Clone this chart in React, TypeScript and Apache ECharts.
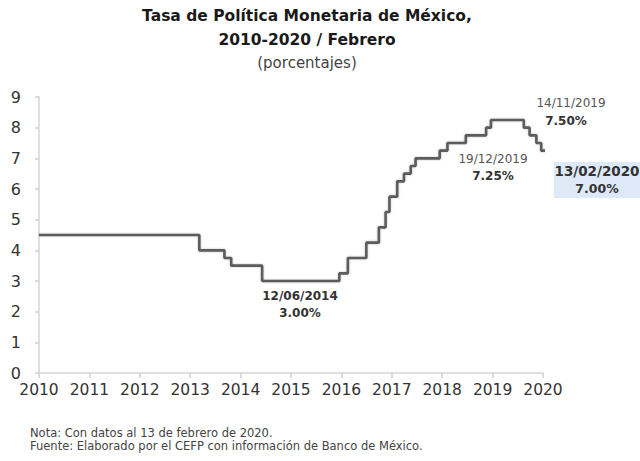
import React, { useEffect, useRef } from "react";
import * as echarts from "echarts";

// Fechas de cambio de la tasa objetivo y su nivel (%)
const changeDates = [
  "2010-01-01", "2013-03-08", "2013-09-06", "2013-10-25", "2014-06-06",
  "2015-12-17", "2016-02-17", "2016-06-30", "2016-09-29", "2016-11-17",
  "2016-12-15", "2017-02-09", "2017-03-30", "2017-05-18", "2017-06-22",
  "2017-12-14", "2018-02-08", "2018-06-21", "2018-11-15", "2018-12-20",
  "2019-08-15", "2019-09-26", "2019-11-14", "2019-12-19", "2020-02-13",
];
const rates = [
  4.5, 4.0, 3.75, 3.5, 3.0,
  3.25, 3.75, 4.25, 4.75, 5.25,
  5.75, 6.25, 6.5, 6.75, 7.0,
  7.25, 7.5, 7.75, 8.0, 8.25,
  8.0, 7.75, 7.5, 7.25, 7.0,
];
const yearTicks = [2010, 2011, 2012, 2013, 2014, 2015, 2016, 2017, 2018, 2019, 2020];
const yTicks = [0, 1, 2, 3, 4, 5, 6, 7, 8, 9];

function toYear(s: string): number {
  const d = new Date(s + "T00:00:00Z").getTime();
  const y = new Date(s + "T00:00:00Z").getUTCFullYear();
  const a = Date.UTC(y, 0, 1);
  const b = Date.UTC(y + 1, 0, 1);
  return y + (d - a) / (b - a);
}

const FONT = "DejaVu Sans";

export default function App() {
  const ref = useRef<HTMLDivElement>(null);
  useEffect(() => {
    if (!ref.current) return;
    const chart = echarts.init(ref.current, undefined, { renderer: "svg" });
    const data = changeDates.map((d, i) => [toYear(d), rates[i]]);
    chart.setOption({
      animation: false,
      backgroundColor: "#ffffff",
      grid: { left: 39, right: 97, top: 97, bottom: 88 },
      xAxis: {
        type: "value",
        min: yearTicks[0],
        max: yearTicks[yearTicks.length - 1],
        interval: 1,
        axisLine: { show: true, lineStyle: { color: "#d4d4d4", width: 1.5 } },
        axisTick: { show: true, length: 5, lineStyle: { color: "#cfcfcf", width: 1.5 } },
        splitLine: { show: false },
        axisLabel: {
          color: "#333",
          fontFamily: FONT,
          fontSize: 15.5,
          margin: 9,
          formatter: (v: number) => String(Math.round(v)),
        },
      },
      yAxis: {
        type: "value",
        min: yTicks[0],
        max: yTicks[yTicks.length - 1],
        interval: 1,
        axisLine: { show: true, lineStyle: { color: "#d4d4d4", width: 1.5 } },
        axisTick: { show: true, length: 4, lineStyle: { color: "#cfcfcf", width: 1.5 } },
        splitLine: { show: false },
        axisLabel: { color: "#333", fontFamily: FONT, fontSize: 16, margin: 18 },
      },
      series: [
        {
          type: "line",
          data,
          step: "end",
          symbol: "none",
          clip: false,
          lineStyle: {
            color: "#5c5c5c",
            width: 2.6,
            shadowColor: "rgba(0,0,0,0.25)",
            shadowBlur: 2,
          },
        },
      ],
      graphic: [
        {
          type: "text",
          x: 307, y: 16,
          style: { text: "Tasa de Política Monetaria de México,", font: `bold 15.5px ${FONT}`, fill: "#1a1a1a", textAlign: "center", textVerticalAlign: "middle" },
        },
        {
          type: "text",
          x: 307, y: 40,
          style: { text: "2010-2020 / Febrero", font: `bold 15.5px ${FONT}`, fill: "#1a1a1a", textAlign: "center", textVerticalAlign: "middle" },
        },
        {
          type: "text",
          x: 307, y: 63,
          style: { text: "(porcentajes)", font: `15px ${FONT}`, fill: "#444", textAlign: "center", textVerticalAlign: "middle" },
        },
        {
          type: "text",
          x: 571, y: 103,
          style: { text: "14/11/2019", font: `12px ${FONT}`, fill: "#555", textAlign: "center", textVerticalAlign: "middle" },
        },
        {
          type: "text",
          x: 566, y: 121,
          style: { text: "7.50%", font: `bold 12px ${FONT}`, fill: "#333", textAlign: "center", textVerticalAlign: "middle" },
        },
        {
          type: "text",
          x: 493, y: 159,
          style: { text: "19/12/2019", font: `12px ${FONT}`, fill: "#555", textAlign: "center", textVerticalAlign: "middle" },
        },
        {
          type: "text",
          x: 493, y: 176,
          style: { text: "7.25%", font: `bold 12px ${FONT}`, fill: "#333", textAlign: "center", textVerticalAlign: "middle" },
        },
        {
          type: "rect",
          shape: { x: 554, y: 162, width: 90, height: 36 },
          style: { fill: "#dde9f6" },
        },
        {
          type: "text",
          x: 597, y: 171,
          style: { text: "13/02/2020", font: `bold 13.5px ${FONT}`, fill: "#333", textAlign: "center", textVerticalAlign: "middle" },
        },
        {
          type: "text",
          x: 597, y: 188,
          style: { text: "7.00%", font: `bold 12.5px ${FONT}`, fill: "#333", textAlign: "center", textVerticalAlign: "middle" },
        },
        {
          type: "text",
          x: 300, y: 296,
          style: { text: "12/06/2014", font: `bold 12px ${FONT}`, fill: "#333", textAlign: "center", textVerticalAlign: "middle" },
        },
        {
          type: "text",
          x: 300, y: 313,
          style: { text: "3.00%", font: `bold 12px ${FONT}`, fill: "#333", textAlign: "center", textVerticalAlign: "middle" },
        },
        {
          type: "text",
          x: 30, y: 433,
          style: { text: "Nota: Con datos al 13 de febrero de 2020.", font: `11.5px ${FONT}`, fill: "#444", textAlign: "left", textVerticalAlign: "middle" },
        },
        {
          type: "text",
          x: 30, y: 446,
          style: { text: "Fuente: Elaborado por el CEFP con información de Banco de México.", font: `11.5px ${FONT}`, fill: "#444", textAlign: "left", textVerticalAlign: "middle" },
        },
      ],
    });
    return () => chart.dispose();
  }, []);
  return <div ref={ref} style={{ width: 640, height: 461, position: "absolute", left: 0, top: 0 }} />;
}
